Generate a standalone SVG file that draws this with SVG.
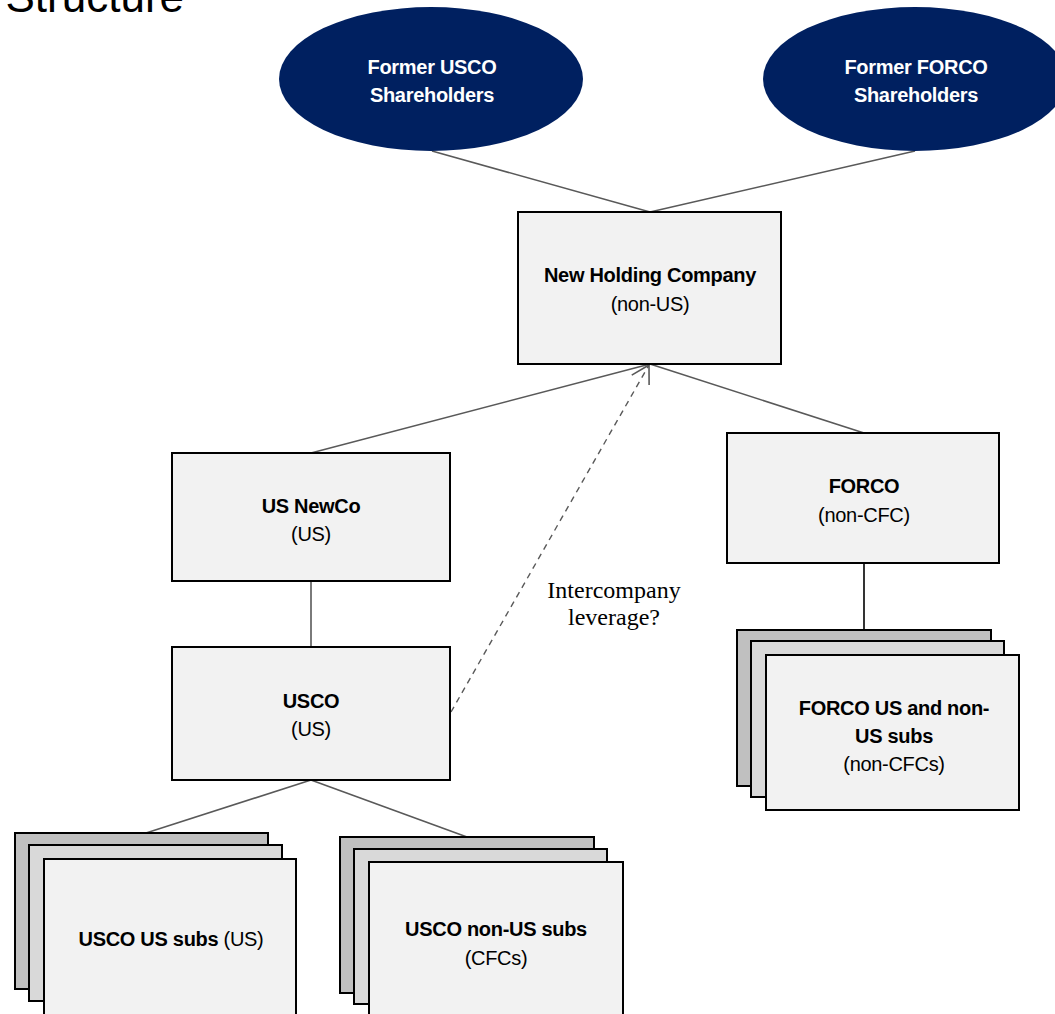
<svg xmlns="http://www.w3.org/2000/svg" width="1055" height="1014" viewBox="0 0 1055 1014">
  <style>
    .box { fill: #f2f2f2; stroke: #000; stroke-width: 2; }
    .back { fill: #c0c0c0; stroke: #000; stroke-width: 2; }
    .mid { fill: #d9d9d9; stroke: #000; stroke-width: 2; }
    .oval { fill: #002060; }
    .link { stroke: #595959; stroke-width: 1.6; fill: none; }
    .dark { stroke: #000; stroke-width: 1.6; fill: none; }
    .dash { stroke: #595959; stroke-width: 1.4; fill: none; stroke-dasharray: 6 5; }
    .t { font-family: "Liberation Sans", Arial, sans-serif; font-size: 20px; text-anchor: middle; fill: #000; letter-spacing: -0.3px; }
    .b { font-weight: bold; }
    .w { fill: #fff; }
    .serif { font-family: "Liberation Serif", "Times New Roman", serif; font-size: 24px; text-anchor: middle; fill: #000; }
    .title { font-family: "Liberation Sans", Arial, sans-serif; font-size: 44px; text-anchor: end; fill: #000; }
  </style>
  <defs>
    <marker id="open-arrow" markerUnits="userSpaceOnUse" markerWidth="24" markerHeight="24" viewBox="-20 -12 24 24" refX="0" refY="0" orient="auto">
      <path d="M-17.3,-10 L0,0 L-17.3,10" fill="none" stroke="#595959" stroke-width="1.6"/>
    </marker>
  </defs>

  <rect width="1055" height="1014" fill="#fff"/>

  <!-- slide heading, cut off at the top edge -->
  <text class="title" x="184" y="11.5">Structure</text>

  <!-- ownership connectors -->
  <g id="connectors">
    <line class="link" x1="432" y1="151" x2="650" y2="212"/>
    <line class="link" x1="915" y1="151" x2="650" y2="212"/>
    <line class="link" x1="650" y1="364" x2="311" y2="453"/>
    <line class="link" x1="650" y1="364" x2="864" y2="433"/>
    <line class="link" x1="311" y1="581" x2="311" y2="647"/>
    <line class="dark" x1="864" y1="563" x2="864" y2="630"/>
    <line class="link" x1="311" y1="780" x2="146" y2="833"/>
    <line class="link" x1="311" y1="780" x2="467" y2="837"/>
    <line class="dash" x1="451" y1="712" x2="649" y2="365" marker-end="url(#open-arrow)"/>
    <text class="serif" x="614" y="598">Intercompany</text>
    <text class="serif" x="614" y="625">leverage?</text>
  </g>

  <g id="former-usco-shareholders">
    <ellipse class="oval" cx="431" cy="79" rx="152" ry="72"/>
    <text class="t b w" x="432" y="74">Former USCO</text>
    <text class="t b w" x="432" y="102">Shareholders</text>
  </g>

  <g id="former-forco-shareholders">
    <ellipse class="oval" cx="915" cy="79" rx="152" ry="72"/>
    <text class="t b w" x="916" y="74">Former FORCO</text>
    <text class="t b w" x="916" y="102">Shareholders</text>
  </g>

  <g id="new-holding-company">
    <rect class="box" x="518" y="212" width="263" height="152"/>
    <text class="t b" x="650" y="282">New Holding Company</text>
    <text class="t" x="650" y="311">(non-US)</text>
  </g>

  <g id="us-newco">
    <rect class="box" x="172" y="453" width="278" height="128"/>
    <text class="t b" x="311" y="513">US NewCo</text>
    <text class="t" x="311" y="541">(US)</text>
  </g>

  <g id="usco">
    <rect class="box" x="172" y="647" width="278" height="133"/>
    <text class="t b" x="311" y="708">USCO</text>
    <text class="t" x="311" y="736">(US)</text>
  </g>

  <g id="forco">
    <rect class="box" x="727" y="433" width="272" height="130"/>
    <text class="t b" x="864" y="493">FORCO</text>
    <text class="t" x="864" y="522">(non-CFC)</text>
  </g>

  <g id="forco-subs">
    <rect class="back" x="737" y="630" width="254" height="156"/>
    <rect class="mid" x="751" y="641" width="253" height="156"/>
    <rect class="box" x="766" y="655" width="253" height="155"/>
    <text class="t b" x="894" y="715">FORCO US and non-</text>
    <text class="t b" x="894" y="743">US subs</text>
    <text class="t" x="894" y="771">(non-CFCs)</text>
  </g>

  <g id="usco-us-subs">
    <rect class="back" x="15" y="833" width="253" height="156"/>
    <rect class="mid" x="29" y="845" width="253" height="156"/>
    <rect class="box" x="44" y="859" width="252" height="160"/>
    <text class="t" x="171" y="946"><tspan class="b">USCO US subs</tspan> (US)</text>
  </g>

  <g id="usco-non-us-subs">
    <rect class="back" x="340" y="837" width="254" height="156"/>
    <rect class="mid" x="354" y="849" width="253" height="155"/>
    <rect class="box" x="369" y="862" width="254" height="160"/>
    <text class="t b" x="496" y="936">USCO non-US subs</text>
    <text class="t" x="496" y="965">(CFCs)</text>
  </g>
</svg>
